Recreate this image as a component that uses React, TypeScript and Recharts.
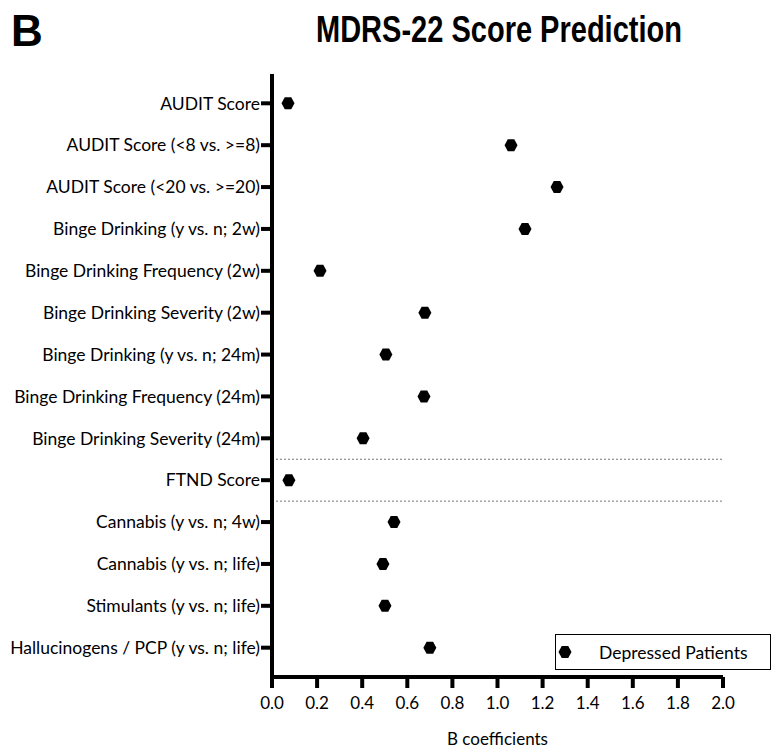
import React from "react";
import {
  ScatterChart,
  Scatter,
  XAxis,
  YAxis,
  ReferenceLine,
} from "recharts";

const categories = [
  "AUDIT Score",
  "AUDIT Score (<8 vs. >=8)",
  "AUDIT Score (<20 vs. >=20)",
  "Binge Drinking (y vs. n; 2w)",
  "Binge Drinking Frequency (2w)",
  "Binge Drinking Severity (2w)",
  "Binge Drinking (y vs. n; 24m)",
  "Binge Drinking Frequency (24m)",
  "Binge Drinking Severity (24m)",
  "FTND Score",
  "Cannabis (y vs. n; 4w)",
  "Cannabis (y vs. n; life)",
  "Stimulants (y vs. n; life)",
  "Hallucinogens / PCP (y vs. n; life)",
];

const bValues = [0.071, 1.06, 1.264, 1.122, 0.213, 0.678, 0.505, 0.674, 0.404, 0.075, 0.541, 0.492, 0.501, 0.7];

const xTicks = [0, 0.2, 0.4, 0.6, 0.8, 1.0, 1.2, 1.4, 1.6, 1.8, 2.0];
const separators = [8.5, 9.5];
const seriesName = "Depressed Patients";

const data = categories.map((c, i) => ({ x: bValues[i], y: i, name: c }));

const FONT = "Lato, 'Open Sans', sans-serif";

const Hexagon = (props: any) => {
  const { cx, cy } = props;
  if (cx == null || cy == null) return null;
  const w = 6.5;
  const h = 6;
  const pts = [
    [cx - w, cy],
    [cx - w / 2, cy - h],
    [cx + w / 2, cy - h],
    [cx + w, cy],
    [cx + w / 2, cy + h],
    [cx - w / 2, cy + h],
  ]
    .map((p) => p.join(","))
    .join(" ");
  return <polygon points={pts} fill="#000" />;
};

export default function App() {
  return (
    <div style={{ position: "absolute", left: 0, top: 0, width: 771, height: 749, background: "#fff" }}>
      <div style={{ position: "absolute", left: 0, top: 0 }}>
        <ScatterChart width={771} height={749} margin={{ top: 74, right: 48, bottom: 12, left: 10 }}>
          <XAxis
            type="number"
            dataKey="x"
            domain={[0, 2]}
            ticks={xTicks}
            tickFormatter={(v: number) => v.toFixed(1)}
            height={60}
            axisLine={{ stroke: "#000", strokeWidth: 4 }}
            tickLine={{ stroke: "#000", strokeWidth: 4 }}
            tickSize={11}
            tickMargin={9}
            tick={{ fill: "#000", fontSize: 17, fontFamily: FONT }}
            label={{ value: "B coefficients", position: "insideBottom", offset: -8, fill: "#000", fontSize: 17, fontFamily: FONT }}
            interval={0}
          />
          <YAxis
            type="number"
            dataKey="y"
            domain={[-0.7, 13.7]}
            reversed
            ticks={categories.map((_, i) => i)}
            tickFormatter={(v: number) => categories[v] ?? ""}
            width={262}
            axisLine={{ stroke: "#000", strokeWidth: 4 }}
            tickLine={{ stroke: "#000", strokeWidth: 4 }}
            tickSize={11}
            tickMargin={1}
            tick={{ fill: "#000", fontSize: 17.5, fontFamily: FONT }}
            interval={0}
          />
          {separators.map((s) => (
            <ReferenceLine
              key={s}
              y={s}
              stroke="#777"
              strokeWidth={1}
              strokeDasharray="2 2"
              segment={[
                { x: 0.025, y: s },
                { x: 2, y: s },
              ]}
            />
          ))}
          <Scatter name={seriesName} data={data} shape={<Hexagon />} isAnimationActive={false} fill="#000" />
        </ScatterChart>
      </div>
      <svg width={771} height={749} style={{ position: "absolute", left: 0, top: 0, pointerEvents: "none" }}>
        <text x={11} y={46} fontFamily="'Liberation Sans', Arial, sans-serif" fontWeight="bold" fontSize={44} fill="#000">
          B
        </text>
        <text
          x={316}
          y={42}
          textLength={366}
          lengthAdjust="spacingAndGlyphs"
          fontFamily="'Liberation Sans Narrow', 'Liberation Sans', Arial, sans-serif"
          fontWeight="bold"
          fontSize={36}
          fill="#000"
        >
          MDRS-22 Score Prediction
        </text>
      </svg>
      <div
        style={{
          position: "absolute",
          left: 555,
          top: 634,
          width: 216,
          height: 36,
          border: "1.5px solid #000",
          background: "#fff",
          display: "flex",
          alignItems: "center",
          boxSizing: "border-box",
          fontFamily: FONT,
          fontSize: 17.5,
          color: "#000",
        }}
      >
        <svg width={20} height={20} style={{ marginLeft: 1 }}>
          <Hexagon cx={8} cy={10} />
        </svg>
        <span style={{ marginLeft: 22 }}>{seriesName}</span>
      </div>
    </div>
  );
}
